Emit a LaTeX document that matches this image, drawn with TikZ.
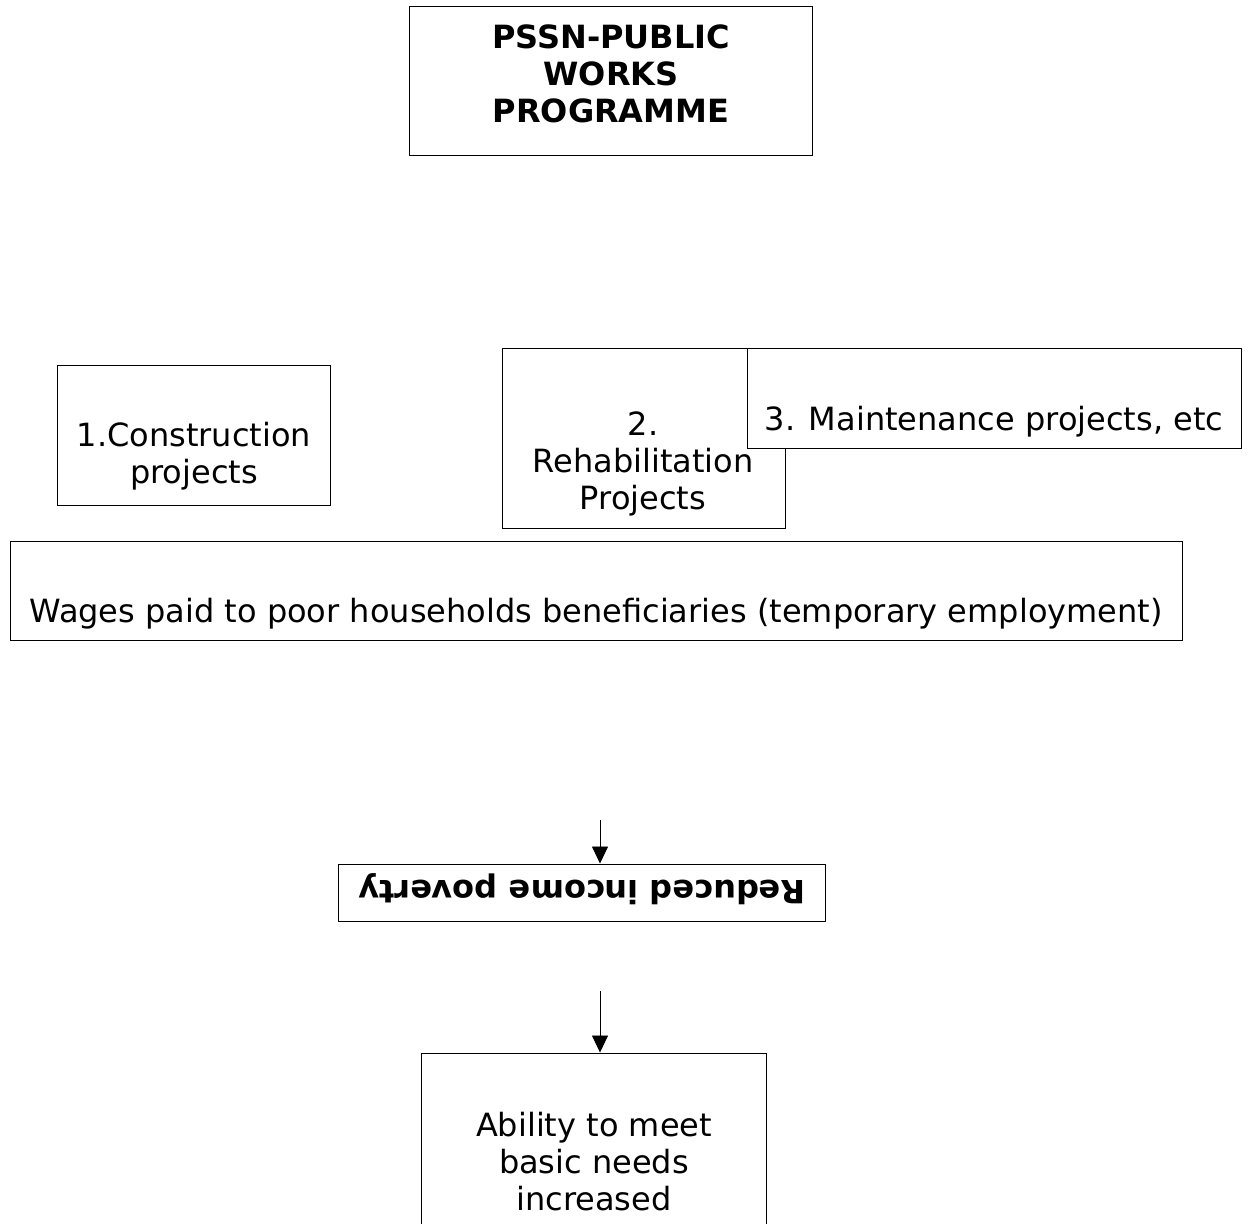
\documentclass[tikz,border=0pt]{standalone}
\usepackage{fontspec}
\setmainfont{DejaVu Sans}
\usepackage{tikz}
\usetikzlibrary{arrows.meta}

\begin{document}
\begin{tikzpicture}[x=1pt, y=-1pt,
  box/.style={draw, fill=white, line width=1pt, inner sep=0pt},
  txt/.style={align=center, inner sep=0pt, font=\fontsize{32}{37}\selectfont},
  btxt/.style={txt, font=\fontsize{32}{37}\selectfont\bfseries},
  arr/.style={line width=0.8pt, -{Triangle[length=17pt, width=16pt]}}]
\clip (0,0) rectangle (1249,1223);
\useasboundingbox (0,0) rectangle (1249,1223);

% programme
\node [box, minimum width=403, minimum height=148] (pwp) at (610.5,81) {};
\node [btxt] (pwpt) at (611,74) {PSSN-PUBLIC\\WORKS\\PROGRAMME};

% the three kinds of projects
\node [box, minimum width=273, minimum height=140] (con) at (193.5,435) {};
\node [txt] (cont) at (194,456) {1.Construction\\projects};
\node [box, minimum width=283, minimum height=180] (reh) at (643.5,438) {};
\node [txt] (reht) at (643,464) {2.\\Rehabilitation\\Projects};
\node [box, minimum width=494, minimum height=100] (mai) at (994,398) {};
\node [txt] (mait) at (994,422) {3. Maintenance projects, etc};

% wages
\node [box, minimum width=1172, minimum height=99] (wag) at (596,590.5) {};
\node [txt] (wagt) at (596,614) {Wages paid to poor households beneficiaries (temporary employment)};

% outcomes
\node [box, minimum width=487, minimum height=57] (pov) at (581.5,892.5) {};
\node [btxt] (povt) at (582,889) {\rotatebox{180}{Reduced income poverty}};
\node [box, minimum width=345, minimum height=220] (abi) at (593.5,1163) {};
\node [txt] (abit) at (594,1162) {Ability to meet\\basic needs\\increased};

\coordinate (a1) at (600,820);
\coordinate (a2) at (600,991);
\draw [arr] (a1) -- (a1 |- pov.north);
\draw [arr] (a2) -- (a2 |- abi.north);
\end{tikzpicture}
\end{document}
